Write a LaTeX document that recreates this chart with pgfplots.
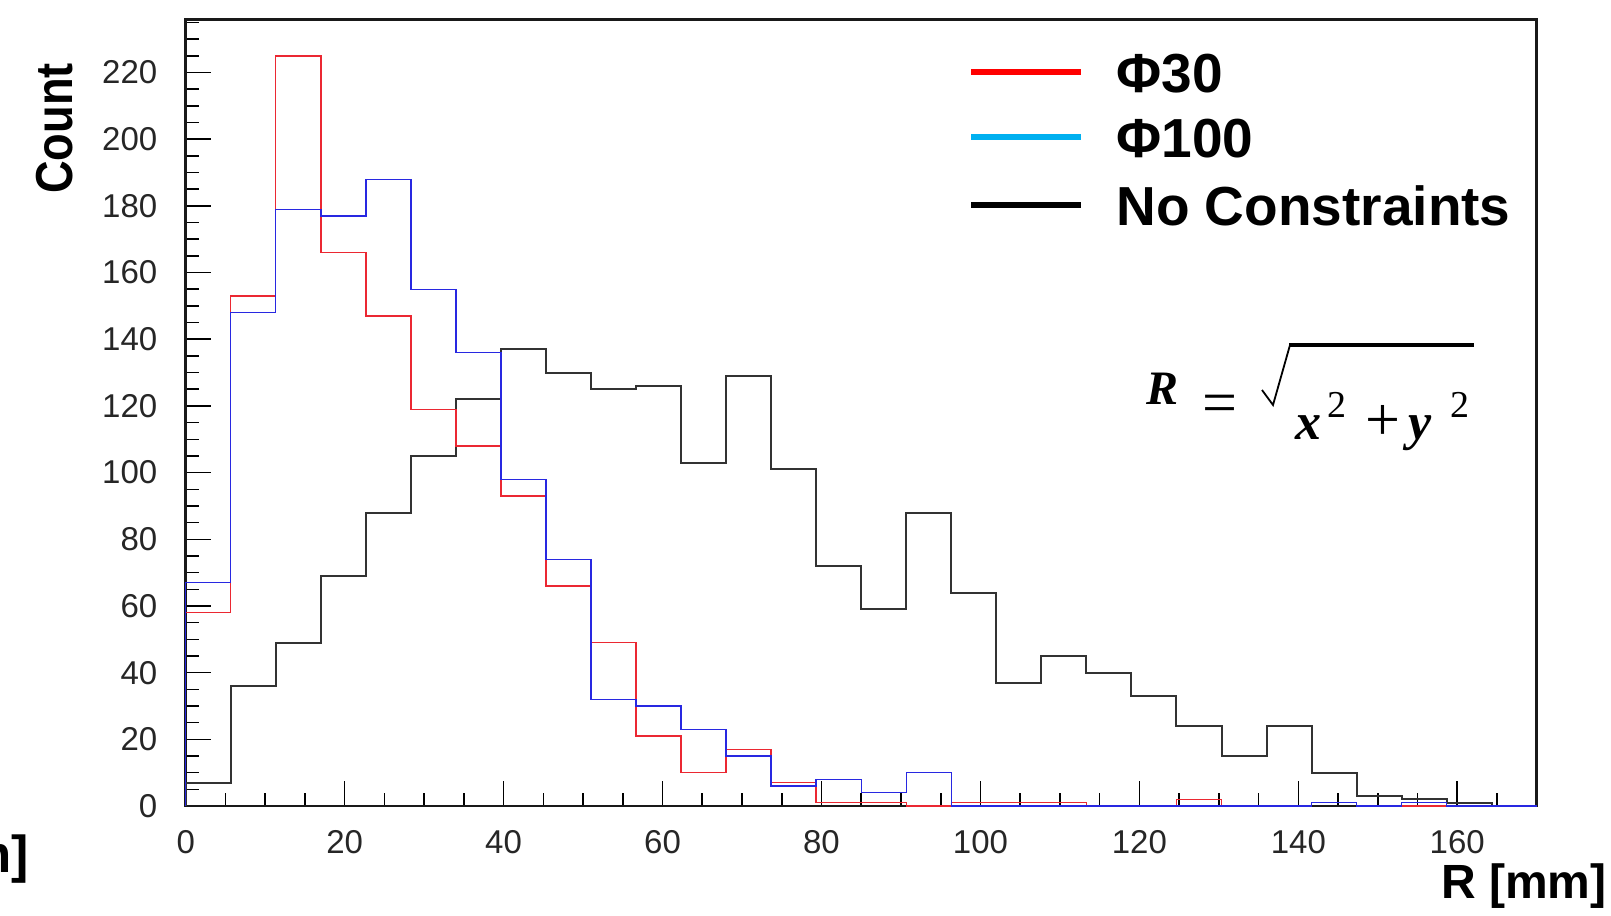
\documentclass[border=0pt]{standalone}
\usepackage{pgfplots}
\pgfplotsset{compat=1.18}
\usepackage{pgfplotstable}
\usepackage{graphicx}
\usepackage{fontspec}
\setmainfont{Liberation Sans}
\newfontfamily\mathserif{Liberation Serif}
\definecolor{legcyan}{RGB}{0,176,240}
\definecolor{histred}{RGB}{235,40,50}
\definecolor{histblue}{RGB}{40,40,225}
\definecolor{histblack}{RGB}{50,50,50}

\pgfplotstableread{
x red blue black
0 0 0 0
0 58 67 7
5.6667 153 148 36
11.3333 225 179 49
17 166 177 69
22.6667 147 188 88
28.3333 119 155 105
34 108 136 122
39.6667 93 98 137
45.3333 66 74 130
51 49 32 125
56.6667 21 30 126
62.3333 10 23 103
68 17 15 129
73.6667 7 6 101
79.3333 1 8 72
85 1 4 59
90.6667 0 10 88
96.3333 1 0 64
102 1 0 37
107.6667 1 0 45
113.3333 0 0 40
119 0 0 33
124.6667 2 0 24
130.3333 0 0 15
136 0 0 24
141.6667 1 1 10
147.3333 0 0 3
153 0 1 2
158.6667 0 0 1
164.3333 0 0 0
170 0 0 0
}\histdata

\begin{document}
\begin{tikzpicture}[x=0.5bp,y=0.5bp]
\useasboundingbox (0,0) rectangle (1611,915);
\begin{axis}[
  at={(92.85bp,54.5bp)}, anchor=south west,
  scale only axis, width=675.5bp, height=393.35bp,
  xmin=0, xmax=170, ymin=0, ymax=236,
  axis line style={line width=1.4bp, black!90},
  tick align=inside,
  xtick pos=bottom, ytick pos=left,
  xtick={0,20,...,160}, ytick={0,20,...,220},
  minor xtick={0,5,...,170}, minor ytick={0,5,...,235},
  major tick length=12.5bp, minor tick length=6.5bp,
  tick style={black, line width=0.8bp},
  ticklabel style={font=\fontsize{16.5bp}{19bp}\selectfont, text=black!85},
  /pgf/number format/assume math mode=true,
  yticklabel style={anchor=east, inner sep=0pt, xshift=-14bp},
  xticklabel style={anchor=north, inner sep=0pt, yshift=-12bp},
  clip=false,
]
\addplot[histblack, line width=1bp, const plot mark left] table[x=x,y=black]{\histdata};
\addplot[histred, line width=0.7bp, const plot mark left] table[x=x,y=red]{\histdata};
\addplot[histblue, line width=0.7bp, const plot mark left] table[x=x,y=blue]{\histdata};
\end{axis}

% legend
\draw[red, line width=3bp] (971,843) -- (1081,843);
\draw[legcyan, line width=3bp] (971,778) -- (1081,778);
\draw[black, line width=3bp] (971,710) -- (1081,710);
\begin{scope}[every node/.style={anchor=base west, inner sep=0pt, font=\fontsize{27.5bp}{32bp}\selectfont\bfseries}]
\node at (1116,822) {Φ30};
\node at (1116,757) {Φ100};
\node at (1116,689) {No Constraints};
\end{scope}

% axis titles
\node[rotate=90, inner sep=0pt] at (55,786.5) {\fontsize{26bp}{30bp}\selectfont\bfseries\scalebox{0.87}[1]{Count}};
\node[anchor=base east, inner sep=0pt] at (1607,17) {\fontsize{24bp}{28bp}\selectfont\bfseries R [mm]};
\node[anchor=base east, inner sep=0pt] at (29,43) {\fontsize{26bp}{30bp}\selectfont\bfseries [mm]};

% formula
\begin{scope}[every node/.style={inner sep=0pt}]
\node[anchor=base] at (1162,510) {\fontsize{24bp}{28bp}\mathserif\bfseries\itshape R};
\node at (1220,505.5) {\fontsize{31bp}{34bp}\mathserif =};
\node[anchor=base west] at (1295,475) {\fontsize{26bp}{30bp}\mathserif\bfseries\itshape x};
\node[anchor=base west] at (1327,497) {\fontsize{19bp}{22bp}\mathserif 2};
\node at (1383,492) {\fontsize{31bp}{34bp}\mathserif +};
\node[anchor=base west] at (1408,475) {\fontsize{26bp}{30bp}\mathserif\bfseries\itshape y};
\node[anchor=base west] at (1450,497) {\fontsize{19bp}{22bp}\mathserif 2};
\end{scope}
\draw[line width=0.9bp, line join=miter] (1262,525) -- (1273,510) -- (1290,570);
\draw[line width=2.3bp] (1289,570) -- (1474,570);
\end{tikzpicture}
\end{document}
